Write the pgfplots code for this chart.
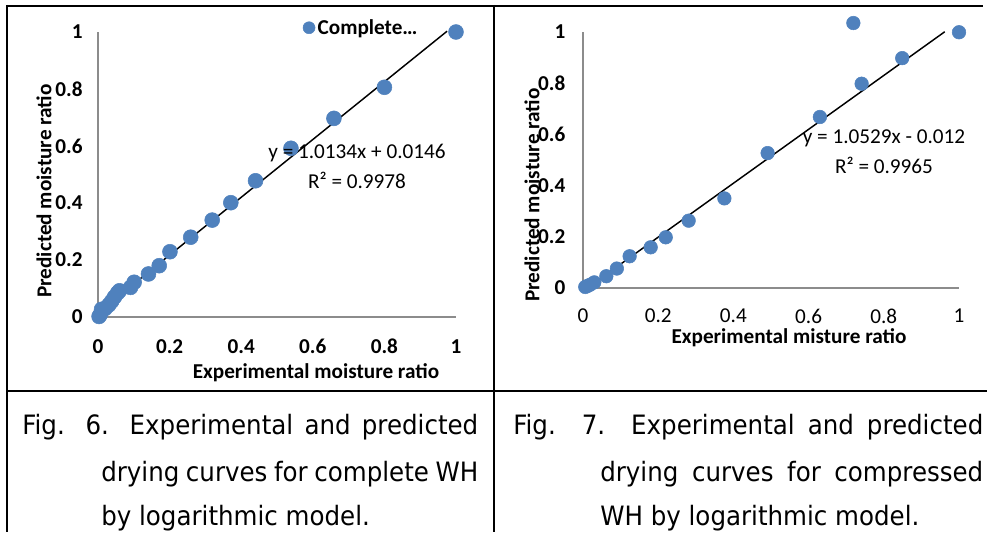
\documentclass[border=0pt]{standalone}
\usepackage{pgfplots}
\pgfplotsset{compat=1.18}
\usepackage{fontspec}
\newfontfamily\calfont{Carlito}
\newfontfamily\capfont[FakeStretch=0.92]{DejaVu Sans}

\definecolor{xlblue}{RGB}{79,129,189}
\newcommand{\cf}{\calfont\fontsize{15.9}{19}\selectfont}
\newcommand{\capf}{\capfont\fontsize{20}{24}\selectfont}

\pgfplotsset{
  mychart/.style={
    scale only axis, anchor=south west,
    xmin=0, xmax=1, ymin=0, ymax=1,
    axis x line*=bottom, axis y line*=left,
    axis line style={draw=black!45, line width=1pt},
    xtick={0,0.2,0.4,0.6,0.8,1}, ytick={0,0.2,0.4,0.6,0.8,1},
    major tick length=0pt,
    clip=false,
    /pgf/number format/assume math mode=true,
    yticklabel style={anchor=east, font=\cf\bfseries},
    xticklabel style={anchor=north},
  },
  dots/.style={only marks, mark=*, color=xlblue, fill=xlblue},
}

\begin{document}
\begin{tikzpicture}[x=0.75pt,y=0.75pt]
\path[use as bounding box] (0,0) rectangle (987,532);

% table rules
\draw[line width=1.5pt] (7,526) -- (983,526);
\draw[line width=1.5pt] (7,527) -- (7,0);
\draw[line width=1.5pt] (494,527) -- (494,0);
\draw[line width=1.5pt] (7,141) -- (987,141);

% Fig. 6
\begin{axis}[mychart, at={(73.5pt,161.25pt)}, width=268.5pt, height=213.75pt,
    yticklabel style={xshift=-8pt},
    xticklabel style={yshift=-13.2pt, font=\cf\bfseries},
    legend style={at={(axis cs:0.572,1.015)}, anchor=west, draw=none, fill=none,
      font=\cf\bfseries, inner sep=0pt},
    legend image code/.code={\draw[#1,mark size=4.5pt] plot coordinates {(0.2cm,0cm)};},
  ]
  \addplot[dots, mark size=5.6pt] coordinates {
    (0.003,0.002) (0.006,0.008) (0.010,0.027) (0.020,0.030) (0.030,0.042)
    (0.038,0.055) (0.046,0.070) (0.055,0.085) (0.060,0.092) (0.091,0.104)
    (0.101,0.122) (0.141,0.151) (0.171,0.180) (0.201,0.229) (0.259,0.280)
    (0.319,0.340) (0.371,0.401) (0.440,0.478) (0.539,0.592) (0.659,0.697)
    (0.800,0.806) (1.000,1.000)
  };
  \addlegendentry{Complete…}
  \addplot[forget plot, black, line width=1.1pt, no marks] coordinates {(0.005,0.0197) (0.975,1.0027)};
\end{axis}

% Fig. 7
\begin{axis}[mychart, at={(437.25pt,183pt)}, width=282pt, height=192pt,
    yticklabel style={xshift=-9.7pt},
    xticklabel style={yshift=-12pt, font=\cf},
  ]
  \addplot[dots, mark size=5.1pt] coordinates {
    (0.006,0.004) (0.012,0.008) (0.019,0.013) (0.030,0.022) (0.062,0.046)
    (0.090,0.076) (0.124,0.124) (0.180,0.159) (0.220,0.198) (0.281,0.263)
    (0.376,0.350) (0.491,0.527) (0.630,0.668) (0.719,1.035) (0.741,0.798)
    (0.849,0.898) (1.000,0.999)
  };
  \addplot[black, line width=1.1pt, no marks] coordinates {(0.012,0.0006) (0.962,1.0009)};
\end{axis}

% axis titles and trend-line labels
\node[font=\cf\bfseries, rotate=90] at (44,341) {Predicted moisture ratio};
\node[font=\cf\bfseries] at (316,159) {Experimental moisture ratio};
\node[font=\cf] at (357,379) {y = 1.0134x + 0.0146};
\node[font=\cf] at (357,352) {R² = 0.9978};

\node[font=\cf\bfseries, rotate=90] at (532,337) {Predicted moisture ratio};
\node[font=\cf\bfseries] at (789,194) {Experimental misture ratio};
\node[font=\cf] at (884,394) {y = 1.0529x - 0.012};
\node[font=\cf] at (884,367) {R² = 0.9965};

% captions
\node[anchor=base west, inner sep=0pt, font=\capf] at (22,98) {\makebox[342pt][s]{Fig. 6. Experimental and predicted}};
\node[anchor=base west, inner sep=0pt, font=\capf] at (101,51) {\makebox[282.75pt][s]{drying curves for complete WH}};
\node[anchor=base west, inner sep=0pt, font=\capf] at (101,7) {by logarithmic model.};
\node[anchor=base west, inner sep=0pt, font=\capf] at (513,98) {\makebox[352.5pt][s]{Fig. 7. Experimental and predicted}};
\node[anchor=base west, inner sep=0pt, font=\capf] at (600,51) {\makebox[287.25pt][s]{drying curves for compressed}};
\node[anchor=base west, inner sep=0pt, font=\capf] at (600,7) {WH by logarithmic model.};
\end{tikzpicture}
\end{document}
